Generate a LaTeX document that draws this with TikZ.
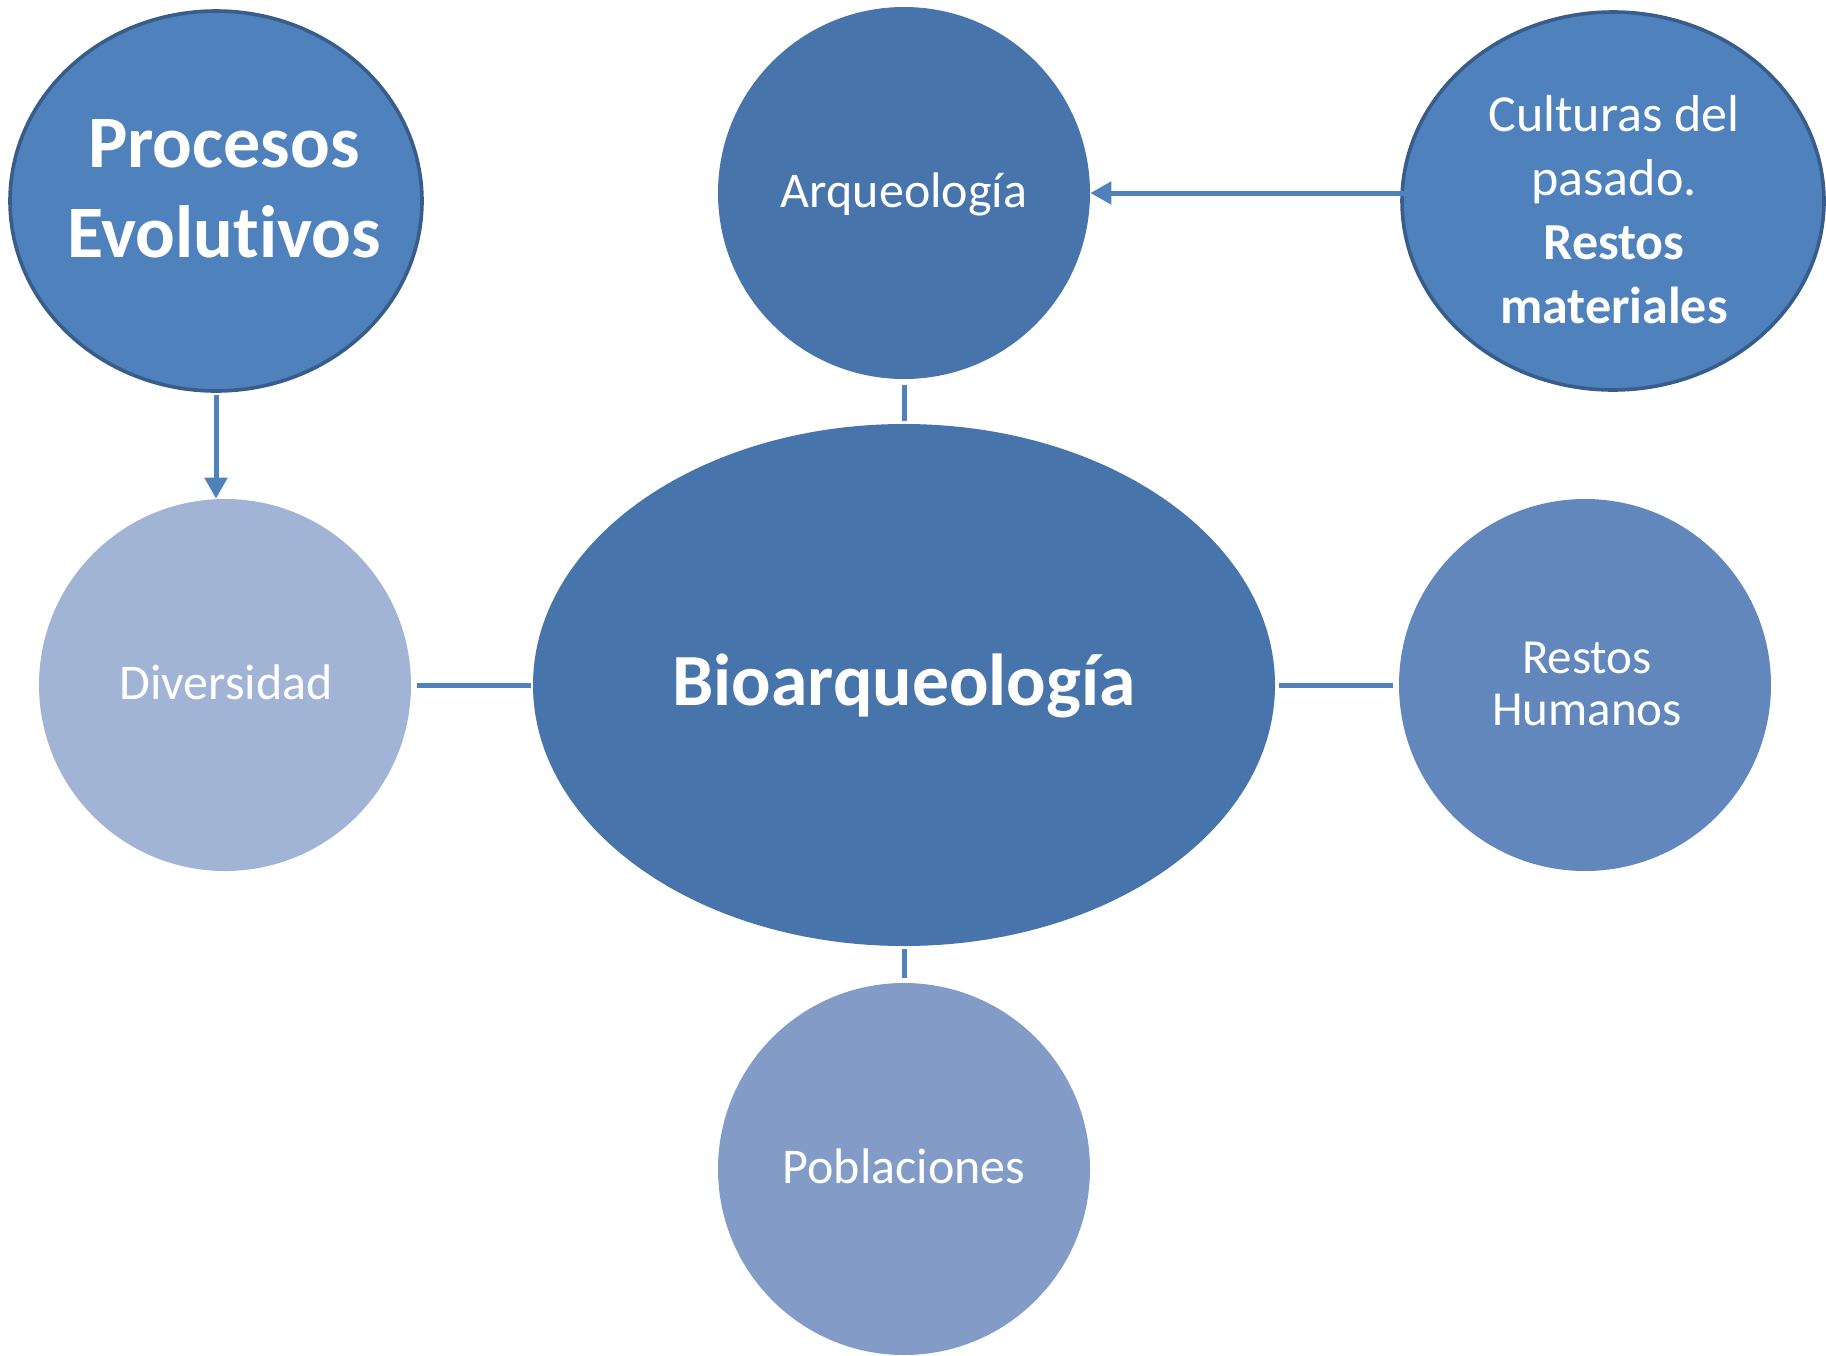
\documentclass[tikz,border=0pt]{standalone}
\usepackage{fontspec}
\setmainfont{Carlito}[Ligatures=NoCommon]
\usetikzlibrary{shapes.geometric,arrows.meta}
\definecolor{bioblue}{HTML}{4774AA}
\definecolor{midblue}{HTML}{4F81BD}
\definecolor{edgeblue}{HTML}{385D8A}
\definecolor{divblue}{HTML}{A2B4D5}
\definecolor{rhblue}{HTML}{6287BD}
\definecolor{pobblue}{HTML}{829CC7}
\definecolor{lineblue}{HTML}{4F81BD}
\tikzset{
  bubble/.style={circle,inner sep=0pt,minimum size=186pt,draw=none},
  bigell/.style={ellipse,inner sep=0pt,fill=midblue,draw=edgeblue,line width=1.8pt},
  lbl/.style={text=white,anchor=base,align=center,inner sep=0pt},
  conn/.style={draw=lineblue,line width=2.5pt},
  arr/.style={conn,-{Triangle[length=10.5pt,width=11pt]}}
}
\begin{document}
\begin{tikzpicture}[x=0.5pt,y=-0.5pt]
\useasboundingbox (0,0) rectangle (1826,1355);
% shapes
\node[bigell,minimum width=206pt,minimum height=190pt] (proc) at (216,201) {};
\node[bigell,minimum width=211pt,minimum height=189pt] (cult) at (1613,201) {};
\node[bubble,fill=bioblue] (arq) at (904,193) {};
\node[ellipse,inner sep=0pt,fill=bioblue,minimum width=371pt,minimum height=261pt] (bio) at (904,685) {};
\node[bubble,fill=divblue] (div) at (225,685) {};
\node[bubble,fill=rhblue] (rh) at (1585,685) {};
\node[bubble,fill=pobblue] (pob) at (904,1169) {};
% texts (anchor base = baseline of last line)
\node[lbl,font=\fontsize{37pt}{45pt}\selectfont\bfseries] (tproc) at (224,257) {Procesos\\Evolutivos};
\node[lbl,font=\fontsize{26pt}{32pt}\selectfont] (tcult) at (1614,323) {Culturas del\\pasado.\\\textbf{Restos}\\\textbf{materiales}};
\node[lbl,font=\fontsize{25pt}{30pt}\selectfont] (tarq) at (904,207) {Arqueología};
\node[lbl,font=\fontsize{36.8pt}{40pt}\selectfont\bfseries] (tbio) at (904,705) {Bioarqueología};
\node[lbl,font=\fontsize{25pt}{30pt}\selectfont] (tdiv) at (226,699) {Diversidad};
\node[lbl,font=\fontsize{24.5pt}{26pt}\selectfont] (trh) at (1587,725) {Restos\\Humanos};
\node[lbl,font=\fontsize{25pt}{30pt}\selectfont] (tpob) at (904,1183) {Poblaciones};
% connectors
\draw[arr,shorten <=1pt,shorten >=0pt] (proc.south) -- (proc.south |- div.north);
\draw[arr,shorten <=-8pt] (cult.west |- arq.east) -- (arq.east);
\draw[conn,shorten <=3pt,shorten >=1.5pt] (arq.south) -- (bio.north);
\draw[conn,shorten <=1.5pt,shorten >=2.5pt] (bio.south) -- (pob.north);
\draw[conn,shorten <=3pt,shorten >=1pt] (div.east) -- (bio.west);
\draw[conn,shorten <=2pt,shorten >=3pt] (bio.east) -- (rh.west);
\end{tikzpicture}
\end{document}
